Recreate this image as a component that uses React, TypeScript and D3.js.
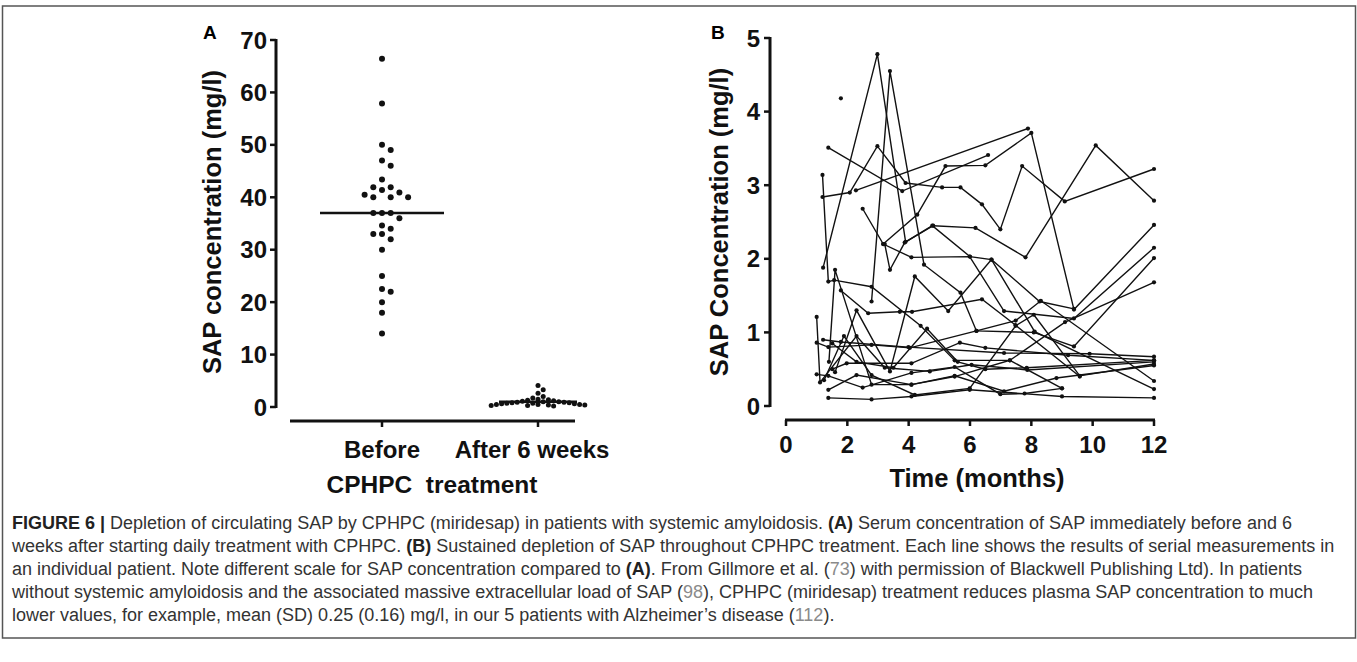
import React from "react";
import * as d3 from "d3";

// ---------- DATA ----------
const groupsA = ["Before", "After 6 weeks"];
const beforeValues = [66.4, 57.9, 50, 49, 47, 46, 43.4, 41.9, 41.9, 41.4, 40.9, 40.5, 40, 40, 40, 37, 37, 37, 36, 34.6, 34, 33, 33, 32, 30, 25, 22.5, 22, 20, 18, 14];
const afterValues = [4.1, 3.3, 2.6, 2.0, 1.7, 1.5, 1.4, 1.3, 1.2, 1.1, 1.0, 1.0, 0.9, 0.9, 0.8, 0.8, 0.7, 0.7, 0.6, 0.6, 0.5, 0.5, 0.5, 0.4, 0.4, 0.3, 0.3, 0.2];
const medianA = [37, 1.0];
const ticksA = [0, 10, 20, 30, 40, 50, 60, 70];
const ticksBY = [0, 1, 2, 3, 4, 5];
const ticksBX = [0, 2, 4, 6, 8, 10, 12];

// each patient: [month, SAP mg/l]
const patientsB: [number, number][][] = [
  [[1.21, 1.88], [2.98, 4.78], [3.9, 2.23], [4.8, 2.45], [6.18, 2.42], [7.81, 2.02], [10.1, 3.54], [12, 2.79]],
  [[1.19, 2.84], [2.08, 2.9], [2.98, 3.53], [3.9, 3.03], [5.09, 2.97], [5.69, 2.97], [6.39, 2.74], [6.99, 2.4], [7.7, 3.26], [9.09, 2.78], [12, 3.22]],
  [[1.38, 3.51], [3.79, 2.92], [6.59, 3.41]],
  [[2.28, 2.93], [7.89, 3.77]],
  [[3.17, 2.2], [4.28, 2.6], [5.2, 3.26], [6.5, 3.27], [8.0, 3.71], [9.39, 1.31], [12, 2.46]],
  [[2.5, 2.68], [3.17, 2.2], [4.09, 2.02], [5.99, 2.03], [7.11, 1.29], [9.39, 1.19], [12, 2.15]],
  [[2.79, 1.42], [3.39, 4.55], [4.5, 1.92], [5.69, 1.54], [6.21, 1.02], [8.08, 1.0], [9.39, 0.81], [12, 2.01]],
  [[1.79, 4.18]],
  [[1.19, 3.14], [1.38, 1.69], [1.57, 1.71], [2.79, 1.62], [4.39, 1.09], [5.5, 0.62], [7.3, 0.62], [9.1, 1.14], [12, 1.68]],
  [[1.0, 1.21], [1.11, 0.32], [2.3, 0.95], [3.22, 0.52], [4.69, 0.47], [6.05, 0.56], [7.87, 0.49], [12, 0.6]],
  [[1.0, 0.86], [1.38, 0.8], [2.79, 0.83], [4.04, 0.79], [6.21, 1.02], [7.49, 1.16], [8.31, 1.43], [12, 0.34]],
  [[1.0, 0.43], [1.38, 0.41], [2.5, 0.25], [4.09, 0.45], [5.5, 0.53], [6.99, 0.16], [7.78, 0.17], [9.0, 0.24]],
  [[1.24, 0.35], [1.89, 0.95], [2.79, 0.42], [4.2, 0.15], [5.99, 0.24], [7.49, 1.09], [8.08, 1.24], [9.58, 0.41], [12, 0.57]],
  [[1.38, 0.11], [2.79, 0.09], [4.09, 0.13], [5.99, 0.22], [9.0, 0.13], [12, 0.11]],
  [[1.38, 0.22], [2.3, 0.42], [4.09, 0.29], [5.5, 0.41], [7.11, 0.2], [8.82, 0.38], [12, 0.55]],
  [[1.51, 0.5], [1.98, 0.58], [4.09, 0.58], [5.67, 0.86], [6.5, 0.79], [9.2, 0.69], [12, 0.62]],
  [[1.6, 0.46], [2.3, 1.3], [3.39, 0.47], [4.2, 1.76], [5.29, 1.29], [6.7, 1.99], [8.27, 1.42], [9.39, 1.32]],
  [[1.21, 0.9], [1.79, 0.87], [3.99, 0.8], [7.11, 0.72], [9.9, 0.71], [12, 0.67]],
  [[1.79, 1.57], [2.68, 1.26], [3.71, 1.28], [4.11, 1.28], [6.39, 1.45], [7.48, 1.1], [9.58, 0.4]],
  [[3.22, 2.2], [3.39, 1.85], [3.87, 2.22], [4.77, 2.45], [6.0, 2.03], [6.7, 1.99], [8.11, 1.01], [12, 0.23]],
  [[1.4, 0.6], [1.6, 1.85], [2.79, 0.29], [4.09, 0.29], [5.5, 0.4], [7.3, 0.62], [9.0, 0.24]],
  [[1.51, 0.85], [2.3, 0.6], [3.5, 0.52], [4.6, 1.05], [5.6, 0.6], [6.5, 0.5], [7.85, 0.52], [12, 0.62]],
];

// ---------- CAPTION ----------
type Seg = { t: string; b?: boolean; g?: boolean };
const captionLines: Seg[][] = [
  [{ t: "FIGURE 6 |", b: true }, { t: " Depletion of circulating SAP by CPHPC (miridesap) in patients with systemic amyloidosis. " }, { t: "(A)", b: true }, { t: " Serum concentration of SAP immediately before and 6" }],
  [{ t: "weeks after starting daily treatment with CPHPC. " }, { t: "(B)", b: true }, { t: " Sustained depletion of SAP throughout CPHPC treatment. Each line shows the results of serial measurements in" }],
  [{ t: "an individual patient. Note different scale for SAP concentration compared to " }, { t: "(A)", b: true }, { t: ". From Gillmore et al. (" }, { t: "73", g: true }, { t: ") with permission of Blackwell Publishing Ltd). In patients" }],
  [{ t: "without systemic amyloidosis and the associated massive extracellular load of SAP (" }, { t: "98", g: true }, { t: "), CPHPC (miridesap) treatment reduces plasma SAP concentration to much" }],
  [{ t: "lower values, for example, mean (SD) 0.25 (0.16) mg/l, in our 5 patients with Alzheimer\u2019s disease (" }, { t: "112", g: true }, { t: ")." }],
];

const W = 1357;
const H = 662;
const FONT = "'Liberation Sans', Arial, Helvetica, sans-serif";
const CAPFONT = "'Liberation Sans Narrow', 'Arial Narrow', 'Liberation Sans', sans-serif";

function beeswarm(values: number[], y: (v: number) => number, cx: number, step: number, minD: number) {
  const sorted = [...values].sort((a, b) => b - a);
  const placed: { x: number; y: number }[] = [];
  for (const v of sorted) {
    const yy = y(v);
    for (let i = 0; i < 40; i++) {
      const k = i === 0 ? 0 : (i % 2 === 1 ? (i + 1) / 2 : -i / 2);
      const xx = cx + k * step;
      if (placed.every((p) => (p.x - xx) ** 2 + (p.y - yy) ** 2 >= minD * minD)) {
        placed.push({ x: xx, y: yy });
        break;
      }
    }
  }
  return placed;
}

export default function App() {
  // Panel A scales
  const yA = d3.scaleLinear().domain([0, 70]).range([407, 40]);
  const xA = d3.scalePoint<string>().domain(groupsA).range([382, 538]);
  const axisAx = 276;
  const baseA = 421;
  const medHalf = [62, 39];

  const dotsBefore = beeswarm(beforeValues, yA, xA("Before")!, 8.7, 8);
  const dotsAfter = beeswarm(afterValues, yA, xA("After 6 weeks")!, 5.2, 5.0);

  // Panel B scales
  const xB = d3.scaleLinear().domain([0, 12]).range([786, 1154]);
  const yB = d3.scaleLinear().domain([0, 5]).range([406, 38]);
  const axisBx = 770;
  const baseB = 420;
  const line = d3.line<[number, number]>().x((d) => xB(d[0])).y((d) => yB(d[1]));

  return (
    <svg width={W} height={H} style={{ position: "absolute", left: 0, top: 0, background: "#fff" }}>
      <rect x={2.5} y={6} width={1353} height={632} fill="none" stroke="#555" strokeWidth={1.5} />

      {/* ---------- Panel A ---------- */}
      <text x={203} y={39} fontFamily={FONT} fontWeight="bold" fontSize={19}>A</text>
      <line x1={axisAx} x2={axisAx} y1={yA(70) - 1} y2={yA(0) + 1} stroke="#111" strokeWidth={3} />
      {ticksA.map((t) => (
        <g key={t}>
          <line x1={axisAx - 6} x2={axisAx} y1={yA(t)} y2={yA(t)} stroke="#111" strokeWidth={2.5} />
          <text x={axisAx - 9} y={yA(t) + 8.5} textAnchor="end" fontFamily={FONT} fontWeight="bold" fontSize={24} fill="#111">{t}</text>
        </g>
      ))}
      <text transform={`translate(221,222) rotate(-90)`} textAnchor="middle" fontFamily={FONT} fontWeight="bold" fontSize={25.5} fill="#111">SAP concentration (mg/l)</text>
      <line x1={290} x2={575} y1={baseA} y2={baseA} stroke="#111" strokeWidth={3} />
      {groupsA.map((g) => (
        <g key={g}>
          <line x1={xA(g)!} x2={xA(g)!} y1={baseA} y2={baseA + 6} stroke="#111" strokeWidth={2.5} />
          <text x={xA(g)! - (g === "Before" ? 0 : 6)} y={458} textAnchor="middle" fontFamily={FONT} fontWeight="bold" fontSize={24} fill="#111">{g}</text>
        </g>
      ))}
      <text x={432} y={493} textAnchor="middle" fontFamily={FONT} fontWeight="bold" fontSize={24.5} fill="#111">CPHPC&#160;&#160;treatment</text>
      {dotsBefore.map((p, i) => <circle key={"b" + i} cx={p.x} cy={p.y} r={3} fill="#111" />)}
      {dotsAfter.map((p, i) => <circle key={"a" + i} cx={p.x} cy={p.y} r={2.5} fill="#111" />)}
      {groupsA.map((g, i) => (
        <line key={"m" + g} x1={xA(g)! - medHalf[i]} x2={xA(g)! + medHalf[i]} y1={yA(medianA[i])} y2={yA(medianA[i])} stroke="#111" strokeWidth={2.5} />
      ))}

      {/* ---------- Panel B ---------- */}
      <text x={711} y={39} fontFamily={FONT} fontWeight="bold" fontSize={19}>B</text>
      <line x1={axisBx} x2={axisBx} y1={yB(5) - 1} y2={yB(0) + 1} stroke="#111" strokeWidth={3} />
      {ticksBY.map((t) => (
        <g key={t}>
          <line x1={axisBx - 6} x2={axisBx} y1={yB(t)} y2={yB(t)} stroke="#111" strokeWidth={2.5} />
          <text x={axisBx - 10} y={yB(t) + 8.5} textAnchor="end" fontFamily={FONT} fontWeight="bold" fontSize={24} fill="#111">{t}</text>
        </g>
      ))}
      <text transform={`translate(728,222) rotate(-90)`} textAnchor="middle" fontFamily={FONT} fontWeight="bold" fontSize={25.5} fill="#111">SAP Concentration (mg/l)</text>
      <line x1={xB(0) - 1} x2={xB(12) + 1} y1={baseB} y2={baseB} stroke="#111" strokeWidth={3} />
      {ticksBX.map((t) => (
        <g key={t}>
          <line x1={xB(t)} x2={xB(t)} y1={baseB} y2={baseB + 6} stroke="#111" strokeWidth={2.5} />
          <text x={xB(t)} y={453} textAnchor="middle" fontFamily={FONT} fontWeight="bold" fontSize={24} fill="#111">{t}</text>
        </g>
      ))}
      <text x={977} y={487} textAnchor="middle" fontFamily={FONT} fontWeight="bold" fontSize={25.5} fill="#111">Time (months)</text>
      {patientsB.map((pts, i) => (
        <g key={"p" + i}>
          {pts.length > 1 && <path d={line(pts) || ""} fill="none" stroke="#111" strokeWidth={1.4} />}
          {pts.map((d, j) => <circle key={j} cx={xB(d[0])} cy={yB(d[1])} r={2.1} fill="#111" />)}
        </g>
      ))}

      {/* ---------- Caption ---------- */}
      {captionLines.map((segs, i) => (
        <text key={"c" + i} x={12} y={529 + i * 23} fontFamily={CAPFONT} fontSize={18} fill="#333">
          {segs.map((s, j) => (
            <tspan key={j} fontWeight={s.b ? "bold" : "normal"} fill={s.g ? "#8a8a8a" : s.b ? "#222" : "#333"}>{s.t}</tspan>
          ))}
        </text>
      ))}
    </svg>
  );
}
